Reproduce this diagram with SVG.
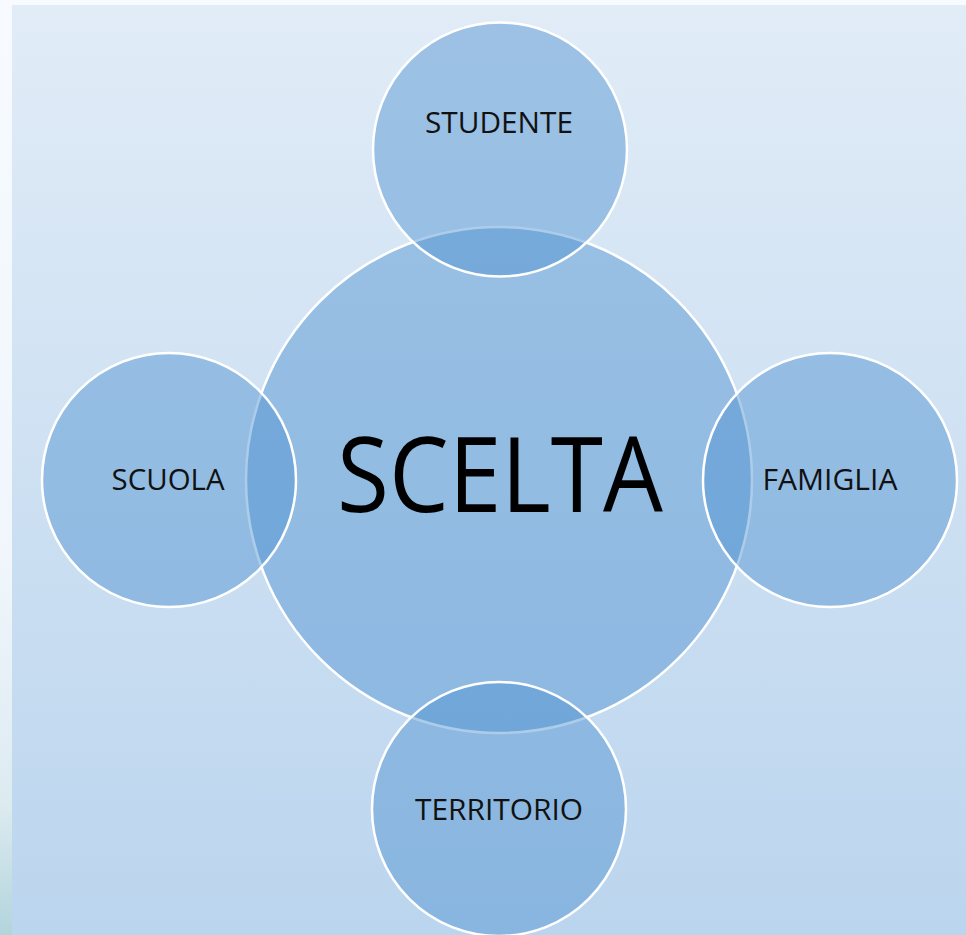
<svg xmlns="http://www.w3.org/2000/svg" width="966" height="935" viewBox="0 0 966 935">
  <defs>
    <linearGradient id="bg" x1="0" y1="0" x2="0" y2="1">
      <stop offset="0" stop-color="#e1ecf7"/>
      <stop offset="1" stop-color="#bbd5ee"/>
    </linearGradient>
    <linearGradient id="strip" x1="0" y1="0" x2="0" y2="1">
      <stop offset="0" stop-color="#f7fbff"/>
      <stop offset="0.6" stop-color="#f0f6fc"/>
      <stop offset="0.86" stop-color="#dcebf0"/>
      <stop offset="1" stop-color="#b3d4dc"/>
    </linearGradient>
    <style>
      .c { fill: #5192d1; fill-opacity: 0.47; stroke: #ffffff; stroke-width: 2.5; }
      .lbl { font-family: "Open Sans", "Liberation Sans", sans-serif; font-size: 29px; fill: #111111; text-anchor: middle; }
      .big { font-family: "Open Sans", "Liberation Sans", sans-serif; font-size: 104px; fill: #000000; text-anchor: middle; }
    </style>
  </defs>
  <rect x="0" y="0" width="966" height="935" fill="#f7fbff"/>
  <rect x="12" y="5" width="954" height="930" fill="url(#bg)"/>
  <rect x="0" y="5" width="12" height="930" fill="url(#strip)"/>

  <g id="scelta">
    <circle class="c" cx="499" cy="480" r="253"/>
    <text class="big" x="500" y="512" textLength="326" lengthAdjust="spacingAndGlyphs">SCELTA</text>
  </g>
  <g id="studente">
    <circle class="c" cx="500" cy="149.5" r="127"/>
    <text class="lbl" x="499" y="133" textLength="148" lengthAdjust="spacingAndGlyphs">STUDENTE</text>
  </g>
  <g id="scuola">
    <circle class="c" cx="169" cy="480" r="127"/>
    <text class="lbl" x="168" y="490" textLength="113" lengthAdjust="spacingAndGlyphs">SCUOLA</text>
  </g>
  <g id="famiglia">
    <circle class="c" cx="830" cy="480" r="127"/>
    <text class="lbl" x="830" y="490" textLength="135" lengthAdjust="spacingAndGlyphs">FAMIGLIA</text>
  </g>
  <g id="territorio">
    <circle class="c" cx="499" cy="809" r="127"/>
    <text class="lbl" x="499" y="820" textLength="168" lengthAdjust="spacingAndGlyphs">TERRITORIO</text>
  </g>
  <g id="connectors"/>
</svg>
